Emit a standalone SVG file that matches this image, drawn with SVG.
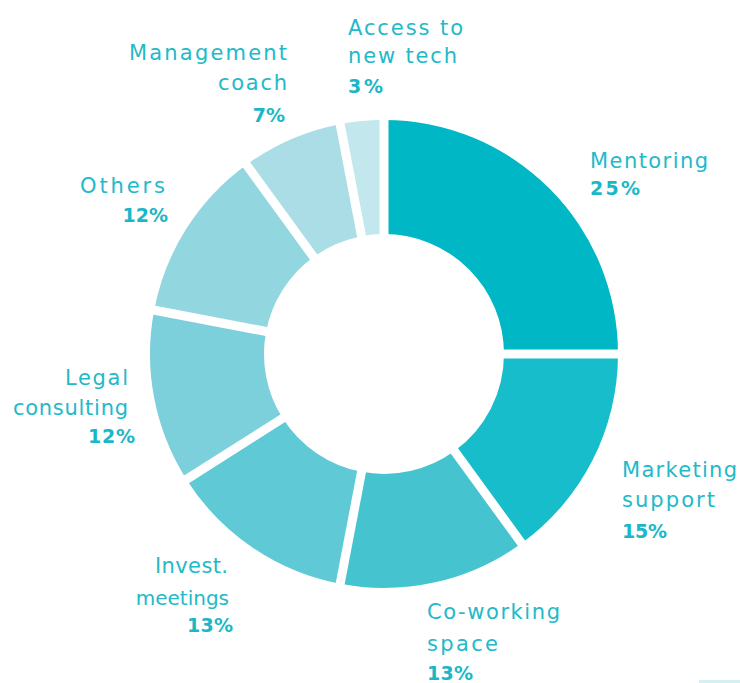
<svg xmlns="http://www.w3.org/2000/svg" width="740" height="683" viewBox="0 0 740 683">
<style>
.l{font-family:"DejaVu Sans","Noto Sans",sans-serif;font-size:21px;font-weight:400;fill:#22B9C9}
.p{font-family:"DejaVu Sans","Noto Sans",sans-serif;font-size:19px;font-weight:700;fill:#1AB7C7}
.r{text-anchor:end}
.gap{stroke:#fff;stroke-width:9;fill:none}
</style>
<rect width="740" height="683" fill="#fff"/>
<g id="mentoring">
<path d="M384,120 A234,234 0 0 1 618,354 L504,354 A120,120 0 0 0 384,234 Z" fill="#00B7C5"/>
<text class="l" x="590" y="168" textLength="118" lengthAdjust="spacing">Mentoring</text>
<text class="p" x="590" y="195" textLength="50" lengthAdjust="spacing">25%</text>
</g>
<g id="marketing">
<path d="M618,354 A234,234 0 0 1 521.54,543.31 L454.53,451.08 A120,120 0 0 0 504,354 Z" fill="#17BDCB"/>
<text class="l" x="622" y="477" textLength="115" lengthAdjust="spacing">Marketing</text>
<text class="l" x="622" y="507" textLength="93" lengthAdjust="spacing">support</text>
<text class="p" x="622" y="538" textLength="45" lengthAdjust="spacing">15%</text>
</g>
<g id="coworking">
<path d="M521.54,543.31 A234,234 0 0 1 340.15,583.86 L361.51,471.87 A120,120 0 0 0 454.53,451.08 Z" fill="#45C4D0"/>
<text class="l" x="427" y="619" textLength="133" lengthAdjust="spacing">Co-working</text>
<text class="l" x="427" y="651" textLength="71" lengthAdjust="spacing">space</text>
<text class="p" x="427" y="680" textLength="46" lengthAdjust="spacing">13%</text>
</g>
<g id="invest">
<path d="M340.15,583.86 A234,234 0 0 1 186.43,479.38 L282.68,418.30 A120,120 0 0 0 361.51,471.87 Z" fill="#5FC9D5"/>
<text class="l r" x="228" y="573" textLength="73" lengthAdjust="spacing">Invest.</text>
<text class="l r" x="229" y="605" style="font-size:20px">meetings</text>
<text class="p r" x="233" y="632" textLength="46" lengthAdjust="spacing">13%</text>
</g>
<g id="legal">
<path d="M186.43,479.38 A234,234 0 0 1 154.14,310.15 L266.13,331.51 A120,120 0 0 0 282.68,418.30 Z" fill="#7CD0DB"/>
<text class="l r" x="128" y="385" textLength="63" lengthAdjust="spacing">Legal</text>
<text class="l r" x="128" y="415" textLength="115" lengthAdjust="spacing">consulting</text>
<text class="p r" x="135" y="443" textLength="47" lengthAdjust="spacing">12%</text>
</g>
<g id="others">
<path d="M154.14,310.15 A234,234 0 0 1 246.46,164.69 L313.47,256.92 A120,120 0 0 0 266.13,331.51 Z" fill="#92D6E0"/>
<text class="l" x="80" y="193" textLength="85" lengthAdjust="spacing">Others</text>
<text class="p r" x="168" y="222">12%</text>
</g>
<g id="management">
<path d="M246.46,164.69 A234,234 0 0 1 340.15,124.14 L361.51,236.13 A120,120 0 0 0 313.47,256.92 Z" fill="#AADDE5"/>
<text class="l r" x="287" y="60" textLength="158" lengthAdjust="spacing">Management</text>
<text class="l r" x="287" y="90" textLength="69" lengthAdjust="spacing">coach</text>
<text class="p r" x="285" y="122">7%</text>
</g>
<g id="access">
<path d="M340.15,124.14 A234,234 0 0 1 384,120 L384,234 A120,120 0 0 0 361.51,236.13 Z" fill="#C2E7EC"/>
<text class="l" x="348" y="35" textLength="115" lengthAdjust="spacing">Access to</text>
<text class="l" x="348" y="63" textLength="109" lengthAdjust="spacing">new tech</text>
<text class="p" x="348" y="93" textLength="35" lengthAdjust="spacing">3%</text>
</g>
<g id="gaps" class="gap">
<line x1="384" y1="354" x2="384" y2="114"/>
<line x1="384" y1="354" x2="624" y2="354"/>
<line x1="384" y1="354" x2="525.07" y2="548.16"/>
<line x1="384" y1="354" x2="339.03" y2="589.75"/>
<line x1="384" y1="354" x2="181.36" y2="482.60"/>
<line x1="384" y1="354" x2="148.25" y2="309.03"/>
<line x1="384" y1="354" x2="242.93" y2="159.84"/>
<line x1="384" y1="354" x2="339.03" y2="118.25"/>
</g>
<rect x="699" y="680" width="41" height="3" fill="#D6EFF2"/>
</svg>
